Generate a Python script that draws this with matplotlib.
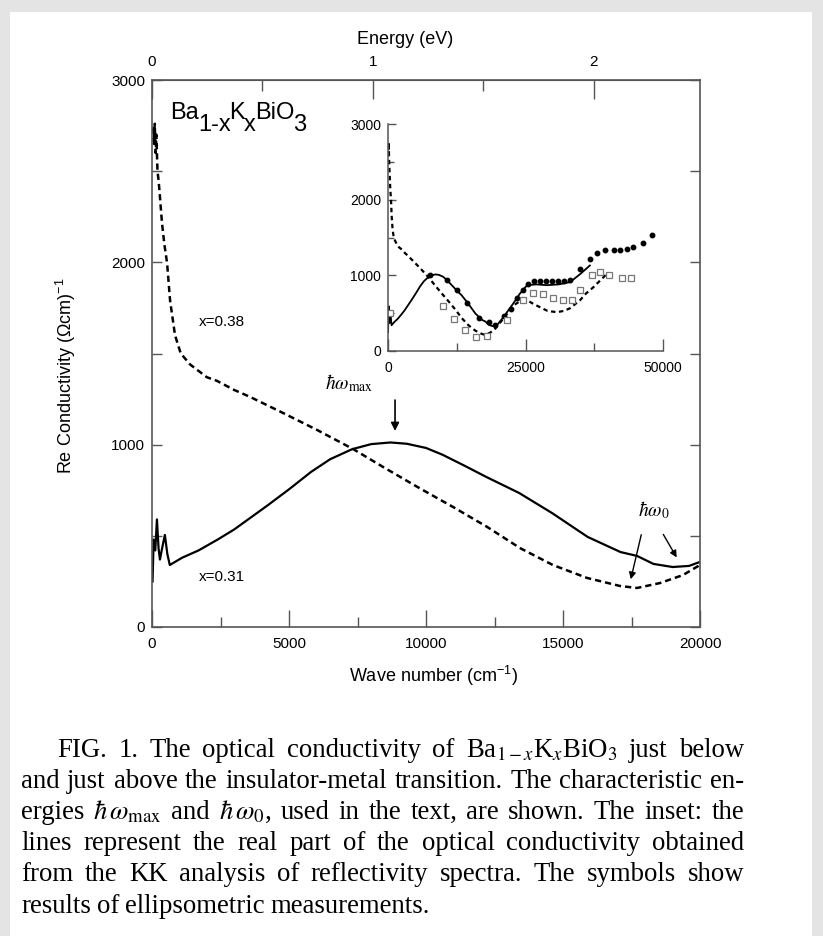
import matplotlib
matplotlib.use("Agg")
import matplotlib.pyplot as plt
from matplotlib.patches import Rectangle
from matplotlib.ticker import MultipleLocator, FixedLocator

plt.rcParams['font.family'] = ['Liberation Sans', 'DejaVu Sans']
plt.rcParams['mathtext.fontset'] = 'custom'
plt.rcParams['mathtext.rm'] = 'Liberation Sans'
plt.rcParams['mathtext.it'] = 'Liberation Sans:italic'

# x=0.31 (solid), main panel, wave number (cm-1) vs Re sigma
wn_031 = [20, 60, 120, 180, 240, 290, 380, 470, 560, 650, 1100, 1700, 2400, 3000,
          3600, 4200, 5000, 5800, 6500, 7300, 8000, 8700, 9300, 10000, 10600, 11400,
          12200, 13400, 14600, 15900, 17100, 17700, 18300, 19000, 19600, 20000]
sig_031 = [250, 480, 420, 590, 430, 370, 440, 505, 400, 340, 380, 420, 480, 535,
           600, 665, 755, 850, 920, 975, 1003, 1012, 1005, 982, 945, 885,
           823, 735, 625, 494, 411, 390, 346, 329, 335, 357]

# x=0.38 (dashed), main panel
wn_038 = [40, 70, 100, 130, 160, 200, 240, 280, 320, 365, 450, 550, 660, 840, 1050,
          1390, 2000, 2370, 3000, 3580, 4780, 6020, 7340, 8430, 9780, 10990, 12230,
          13430, 14630, 15880, 17080, 17700, 18540, 19380, 20000]
sig_038 = [2740, 2650, 2760, 2600, 2700, 2500, 2450, 2380, 2300, 2216, 2100, 1997, 1790, 1600, 1500,
           1440, 1370, 1350, 1300, 1262, 1174, 1081, 976, 878, 760, 658, 549,
           433, 340, 269, 225, 214, 241, 285, 340]

# continuation of the KK curves shown only in the inset
wn_031_ext = [21000, 22800, 24000, 25300, 27000, 28900, 31000, 33100, 35000, 36700]
sig_031_ext = [450, 630, 760, 870, 880, 870, 880, 910, 1020, 1130]
wn_038_ext = [21000, 22800, 24000, 25300, 26500, 27600, 29000, 30700, 32000, 33100,
              34900, 36000, 37300, 39800]
sig_038_ext = [430, 600, 660, 670, 620, 580, 530, 513, 530, 565,
               670, 760, 840, 1020]

# ellipsometry (inset symbols)
wn_ell_031 = [7600, 10700, 12500, 14400, 16500, 18300, 19500, 21000, 22300, 23500, 24600,
              25500, 26500, 27600, 28700, 29800, 30900, 32000, 33100, 34900, 36700,
              38000, 39500, 41000, 42200, 43400, 44500, 46400, 48000]
sig_ell_031 = [1000, 940, 800, 630, 440, 380, 340, 460, 560, 700, 800,
               880, 920, 930, 930, 930, 930, 930, 940, 1090, 1220,
               1300, 1340, 1340, 1330, 1350, 1370, 1430, 1530]
wn_ell_038 = [400, 10000, 12000, 14000, 16000, 18000, 21600, 24500, 26400, 28100, 30000,
              31800, 33500, 34900, 37100, 38500, 40200, 42500, 44200]
sig_ell_038 = [500, 600, 420, 276, 185, 200, 410, 670, 760, 750, 700,
               670, 670, 800, 1000, 1040, 1000, 970, 960]

CM_PER_EV = 8065.5
spine_c = '#555555'
W, H = 823, 936

fig = plt.figure(figsize=(W / 100, H / 100), dpi=100)
fig.patch.set_facecolor('#e4e4e4')
fig.add_artist(Rectangle((10 / W, 0), 802 / W, 924 / H, transform=fig.transFigure,
                         facecolor='white', edgecolor='none', zorder=-10))

ax = fig.add_axes([152 / W, 1 - 627 / H, 548 / W, 547 / H])
ax.plot(wn_031, sig_031, color='k', lw=1.6)
ax.plot(wn_038, sig_038, color='k', lw=1.8, ls=(0, (2.5, 1.6)))
ax.set_xlim(0, 20000)
ax.set_ylim(0, 3000)
for s in ax.spines.values():
    s.set_color(spine_c)
    s.set_linewidth(1.2)
ax.xaxis.set_major_locator(MultipleLocator(5000))
ax.xaxis.set_minor_locator(MultipleLocator(2500))
ax.yaxis.set_major_locator(MultipleLocator(1000))
ax.yaxis.set_minor_locator(MultipleLocator(500))
ax.tick_params(which='both', direction='in', color=spine_c, width=1, labelsize=11)
ax.tick_params(axis='x', which='major', length=12, pad=7)
ax.tick_params(axis='x', which='minor', length=7)
ax.tick_params(axis='y', which='both', length=7, pad=5, right=True)
ax.set_xlabel('Wave number (cm$^{-1}$)', fontsize=13)
ax.xaxis.set_label_coords(0.513, -0.068)
ax.set_ylabel('Re Conductivity ($\\Omega$cm)$^{-1}$', fontsize=13)
ax.yaxis.set_label_coords(-0.135, 0.46)

top = ax.secondary_xaxis('top', functions=(lambda x: x / CM_PER_EV, lambda e: e * CM_PER_EV))
top.xaxis.set_major_locator(FixedLocator([0, 1, 2]))
top.xaxis.set_minor_locator(FixedLocator([0.5, 1.5]))
top.tick_params(which='both', direction='in', color=spine_c, width=1, labelsize=11)
top.tick_params(which='major', length=14, pad=8)
top.tick_params(which='minor', length=8)
top.spines['top'].set_color(spine_c)
fig.text(405 / W, 1 - 40 / H, 'Energy (eV)', ha='center', va='center', fontsize=13)

ax.text(2550, 1673, 'x=0.38', fontsize=11, ha='center', va='center')
ax.text(2550, 274, 'x=0.31', fontsize=11, ha='center', va='center')
ax.text(7200, 1340, '$\\hbar\\omega_{\\mathrm{max}}$', fontsize=14, ha='center', va='center',
        math_fontfamily='stix')
ax.annotate('', xy=(8870, 1060), xytext=(8870, 1260),
            arrowprops=dict(arrowstyle='-|>', color='k', lw=1.2, mutation_scale=12))
ax.text(18300, 640, '$\\hbar\\omega_0$', fontsize=14, ha='center', va='center',
        math_fontfamily='stix')
ax.annotate('', xy=(17450, 247), xytext=(17880, 521),
            arrowprops=dict(arrowstyle='-|>', color='k', lw=1.0, mutation_scale=10))
ax.annotate('', xy=(19200, 368), xytext=(18610, 521),
            arrowprops=dict(arrowstyle='-|>', color='k', lw=1.0, mutation_scale=10))

# inset
ins = fig.add_axes([388 / W, 1 - 351 / H, 275 / W, 227 / H])
ins.plot(wn_031 + wn_031_ext, sig_031 + sig_031_ext, color='k', lw=1.3)
ins.plot(wn_038 + wn_038_ext, sig_038 + sig_038_ext, color='k', lw=1.6, ls=(0, (2, 1.6)))
ins.plot(wn_ell_031, sig_ell_031, 'o', color='k', ms=3.2)
ins.plot(wn_ell_038, sig_ell_038, 's', mfc='white', mec='#777777', mew=0.9, ms=4)
ins.set_xlim(0, 50000)
ins.set_ylim(0, 3000)
ins.spines['top'].set_visible(False)
ins.spines['right'].set_visible(False)
for s in ('left', 'bottom'):
    ins.spines[s].set_color(spine_c)
    ins.spines[s].set_linewidth(1.1)
ins.xaxis.set_major_locator(MultipleLocator(25000))
ins.xaxis.set_minor_locator(MultipleLocator(12500))
ins.yaxis.set_major_locator(MultipleLocator(1000))
ins.yaxis.set_minor_locator(MultipleLocator(500))
ins.tick_params(which='both', direction='in', color=spine_c, width=1, labelsize=10)
ins.tick_params(axis='x', which='major', length=9, pad=7)
ins.tick_params(axis='x', which='minor', length=6)
ins.tick_params(axis='y', which='major', length=6, pad=5)
ins.tick_params(axis='y', which='minor', length=4)
ins.patch.set_alpha(0)

fig.canvas.draw()
renderer = fig.canvas.get_renderer()

# compound name with full-size, lowered subscripts as in the original
formula = [('Ba', 0), ('1-x', -12), ('K', 0), ('x', -12), ('BiO', 0), ('3', -12)]
x = 170
for piece, dy in formula:
    t = fig.text(x / W, 1 - (119 - dy) / H, piece, fontsize=17, ha='left', va='baseline')
    x += t.get_window_extent(renderer).width - 1

# caption, justified line by line
caption = [
    'FIG. 1. The optical conductivity of Ba$_{1-x}$K$_x$BiO$_3$ just below',
    'and just above the insulator-metal transition. The characteristic en-',
    'ergies $\\hbar\\,\\omega_{\\mathrm{max}}$ and $\\hbar\\,\\omega_0$, used in the text, are shown. The inset: the',
    'lines represent the real part of the optical conductivity obtained',
    'from the KK analysis of reflectivity spectra. The symbols show',
    'results of ellipsometric measurements.',
]
baselines = [757, 788, 819, 850, 881, 913]
left_px, right_px, indent_px = 21, 744, 57

probe = fig.text(0, 0, caption[1], fontsize=16, family='Liberation Serif')
cap_fs = 16 * (right_px - left_px - 8) / probe.get_window_extent(renderer).width
probe.remove()

for i, (line, ypx) in enumerate(zip(caption, baselines)):
    words = line.split(' ')
    x0 = indent_px if i == 0 else left_px
    arts = [fig.text(x0 / W, 1 - ypx / H, w, fontsize=cap_fs, family='Liberation Serif',
                     math_fontfamily='stix', ha='left', va='baseline') for w in words]
    widths = [a.get_window_extent(renderer).width for a in arts]
    if i < len(caption) - 1:
        gap = (right_px - x0 - sum(widths)) / (len(words) - 1)
    else:
        gap = cap_fs * 0.3
    x = x0
    for a, w in zip(arts, widths):
        a.set_x(x / W)
        x += w + gap

fig.savefig('out.png', dpi=100, facecolor=fig.get_facecolor())
